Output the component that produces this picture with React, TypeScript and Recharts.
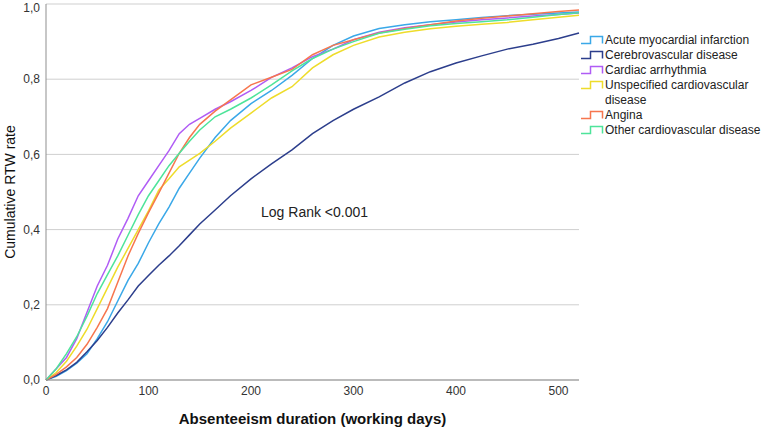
import React from 'react';
import { LineChart, Line, XAxis, YAxis, CartesianGrid, ReferenceDot } from 'recharts';

// Kaplan-Meier style cumulative return-to-work curves
const days = [0, 10, 20, 30, 40, 50, 60, 70, 80, 90, 100, 110, 120, 130, 140, 150, 165, 180, 200, 220, 240, 260, 280, 300, 325, 350, 375, 400, 425, 450, 475, 500, 520];

const acuteMI = [0, 0.01, 0.025, 0.045, 0.07, 0.11, 0.155, 0.21, 0.265, 0.31, 0.365, 0.415, 0.46, 0.51, 0.55, 0.59, 0.645, 0.69, 0.735, 0.77, 0.81, 0.855, 0.89, 0.915, 0.935, 0.945, 0.953, 0.958, 0.964, 0.969, 0.973, 0.976, 0.979];
const cerebro = [0, 0.012, 0.027, 0.047, 0.075, 0.105, 0.14, 0.178, 0.213, 0.25, 0.278, 0.305, 0.33, 0.357, 0.386, 0.415, 0.452, 0.49, 0.535, 0.575, 0.612, 0.655, 0.69, 0.72, 0.753, 0.79, 0.82, 0.843, 0.862, 0.88, 0.893, 0.908, 0.923];
const arrhythmia = [0, 0.03, 0.06, 0.11, 0.18, 0.25, 0.305, 0.375, 0.43, 0.49, 0.53, 0.57, 0.61, 0.655, 0.68, 0.696, 0.72, 0.74, 0.77, 0.805, 0.83, 0.86, 0.88, 0.905, 0.925, 0.937, 0.945, 0.952, 0.958, 0.963, 0.968, 0.972, 0.976];
const unspecified = [0, 0.02, 0.05, 0.09, 0.135, 0.19, 0.245, 0.3, 0.35, 0.4, 0.45, 0.505, 0.535, 0.567, 0.585, 0.603, 0.635, 0.67, 0.71, 0.75, 0.78, 0.83, 0.865, 0.89, 0.912, 0.925, 0.934, 0.941, 0.946, 0.951, 0.958, 0.965, 0.97];
const angina = [0, 0.015, 0.035, 0.06, 0.095, 0.14, 0.19, 0.26, 0.33, 0.39, 0.445, 0.497, 0.55, 0.603, 0.645, 0.68, 0.715, 0.745, 0.785, 0.805, 0.826, 0.865, 0.89, 0.905, 0.923, 0.935, 0.945, 0.955, 0.962, 0.968, 0.974, 0.98, 0.984];
const otherCvd = [0, 0.03, 0.07, 0.115, 0.17, 0.23, 0.28, 0.33, 0.385, 0.44, 0.49, 0.53, 0.57, 0.603, 0.635, 0.665, 0.7, 0.72, 0.75, 0.785, 0.822, 0.855, 0.88, 0.9, 0.922, 0.933, 0.942, 0.948, 0.953, 0.958, 0.965, 0.972, 0.977];

const xTicks = [0, 100, 200, 300, 400, 500];
const yTicks = [0, 0.2, 0.4, 0.6, 0.8, 1];

const series = [
  { key: 'acute', name: 'Acute myocardial infarction', color: '#3aa8e8', values: acuteMI },
  { key: 'cerebro', name: 'Cerebrovascular disease', color: '#2c3e8c', values: cerebro },
  { key: 'arrhythmia', name: 'Cardiac arrhythmia', color: '#b05cf5', values: arrhythmia },
  { key: 'unspecified', name: 'Unspecified cardiovascular disease', color: '#eedc2a', values: unspecified },
  { key: 'angina', name: 'Angina', color: '#f7764e', values: angina },
  { key: 'other', name: 'Other cardiovascular disease', color: '#4ee49a', values: otherCvd },
];

const data = days.map((d, i) => {
  const row: Record<string, number> = { day: d };
  series.forEach(s => { row[s.key] = s.values[i]; });
  return row;
});

const FONT = '"Liberation Sans", Arial, sans-serif';

export default function App() {
  return (
    <div style={{ position: 'absolute', left: 0, top: 0, width: 762, height: 428, background: '#fff', fontFamily: FONT }}>
      <LineChart width={762} height={428} data={data} margin={{ top: 4, right: 183, bottom: 0, left: 0 }}>
        <CartesianGrid vertical={false} stroke="#cfcfcf" />
        <XAxis
          dataKey="day"
          type="number"
          domain={[0, 520]}
          ticks={xTicks}
          height={48}
          tickLine={false}
          tickSize={4}
          axisLine={{ stroke: '#8f8f8f' }}
          tick={{ fontSize: 12, fill: '#333', fontFamily: FONT }}
          label={{ value: 'Absenteeism duration (working days)', position: 'insideBottom', offset: 4, style: { fontSize: 15, fontWeight: 'bold', fill: '#111', fontFamily: FONT } }}
        />
        <YAxis
          type="number"
          domain={[0, 1]}
          ticks={yTicks}
          width={46}
          tickLine={false}
          tickSize={4}
          axisLine={{ stroke: '#8f8f8f' }}
          tickFormatter={(v: number) => v.toFixed(1).replace('.', ',')}
          tick={{ fontSize: 12, fill: '#333', fontFamily: FONT }}
          label={{ value: 'Cumulative RTW rate', angle: -90, position: 'insideLeft', offset: 10, style: { textAnchor: 'middle', fontSize: 14, fill: '#111', fontFamily: FONT } }}
        />
        {series.map(s => (
          <Line
            key={s.key}
            dataKey={s.key}
            name={s.name}
            type="linear"
            stroke={s.color}
            strokeWidth={1.5}
            dot={false}
            isAnimationActive={false}
          />
        ))}
        <ReferenceDot
          x={262}
          y={0.447}
          r={1}
          fill="none"
          stroke="none"
          label={{ value: 'Log Rank <0.001', position: 'center', style: { fontSize: 14, fill: '#222', fontFamily: FONT } }}
        />
      </LineChart>

      {/* legend with step-shaped icons */}
      <div style={{ position: 'absolute', left: 580, top: 33, fontSize: 12, lineHeight: '15px', color: '#222' }}>
        {series.map(s => (
          <div key={s.key} style={{ display: 'flex', alignItems: 'flex-start' }}>
            <svg width={25} height={15} style={{ flex: 'none' }}>
              <path d="M1 10.5 H10.5 V3.5 H22.5 V10.5" fill="none" stroke={s.color} strokeWidth={1.5} />
            </svg>
            <span style={{ whiteSpace: 'nowrap' }}>
              {s.key === 'unspecified' ? (<>Unspecified cardiovascular<br />disease</>) : s.name}
            </span>
          </div>
        ))}
      </div>
    </div>
  );
}
